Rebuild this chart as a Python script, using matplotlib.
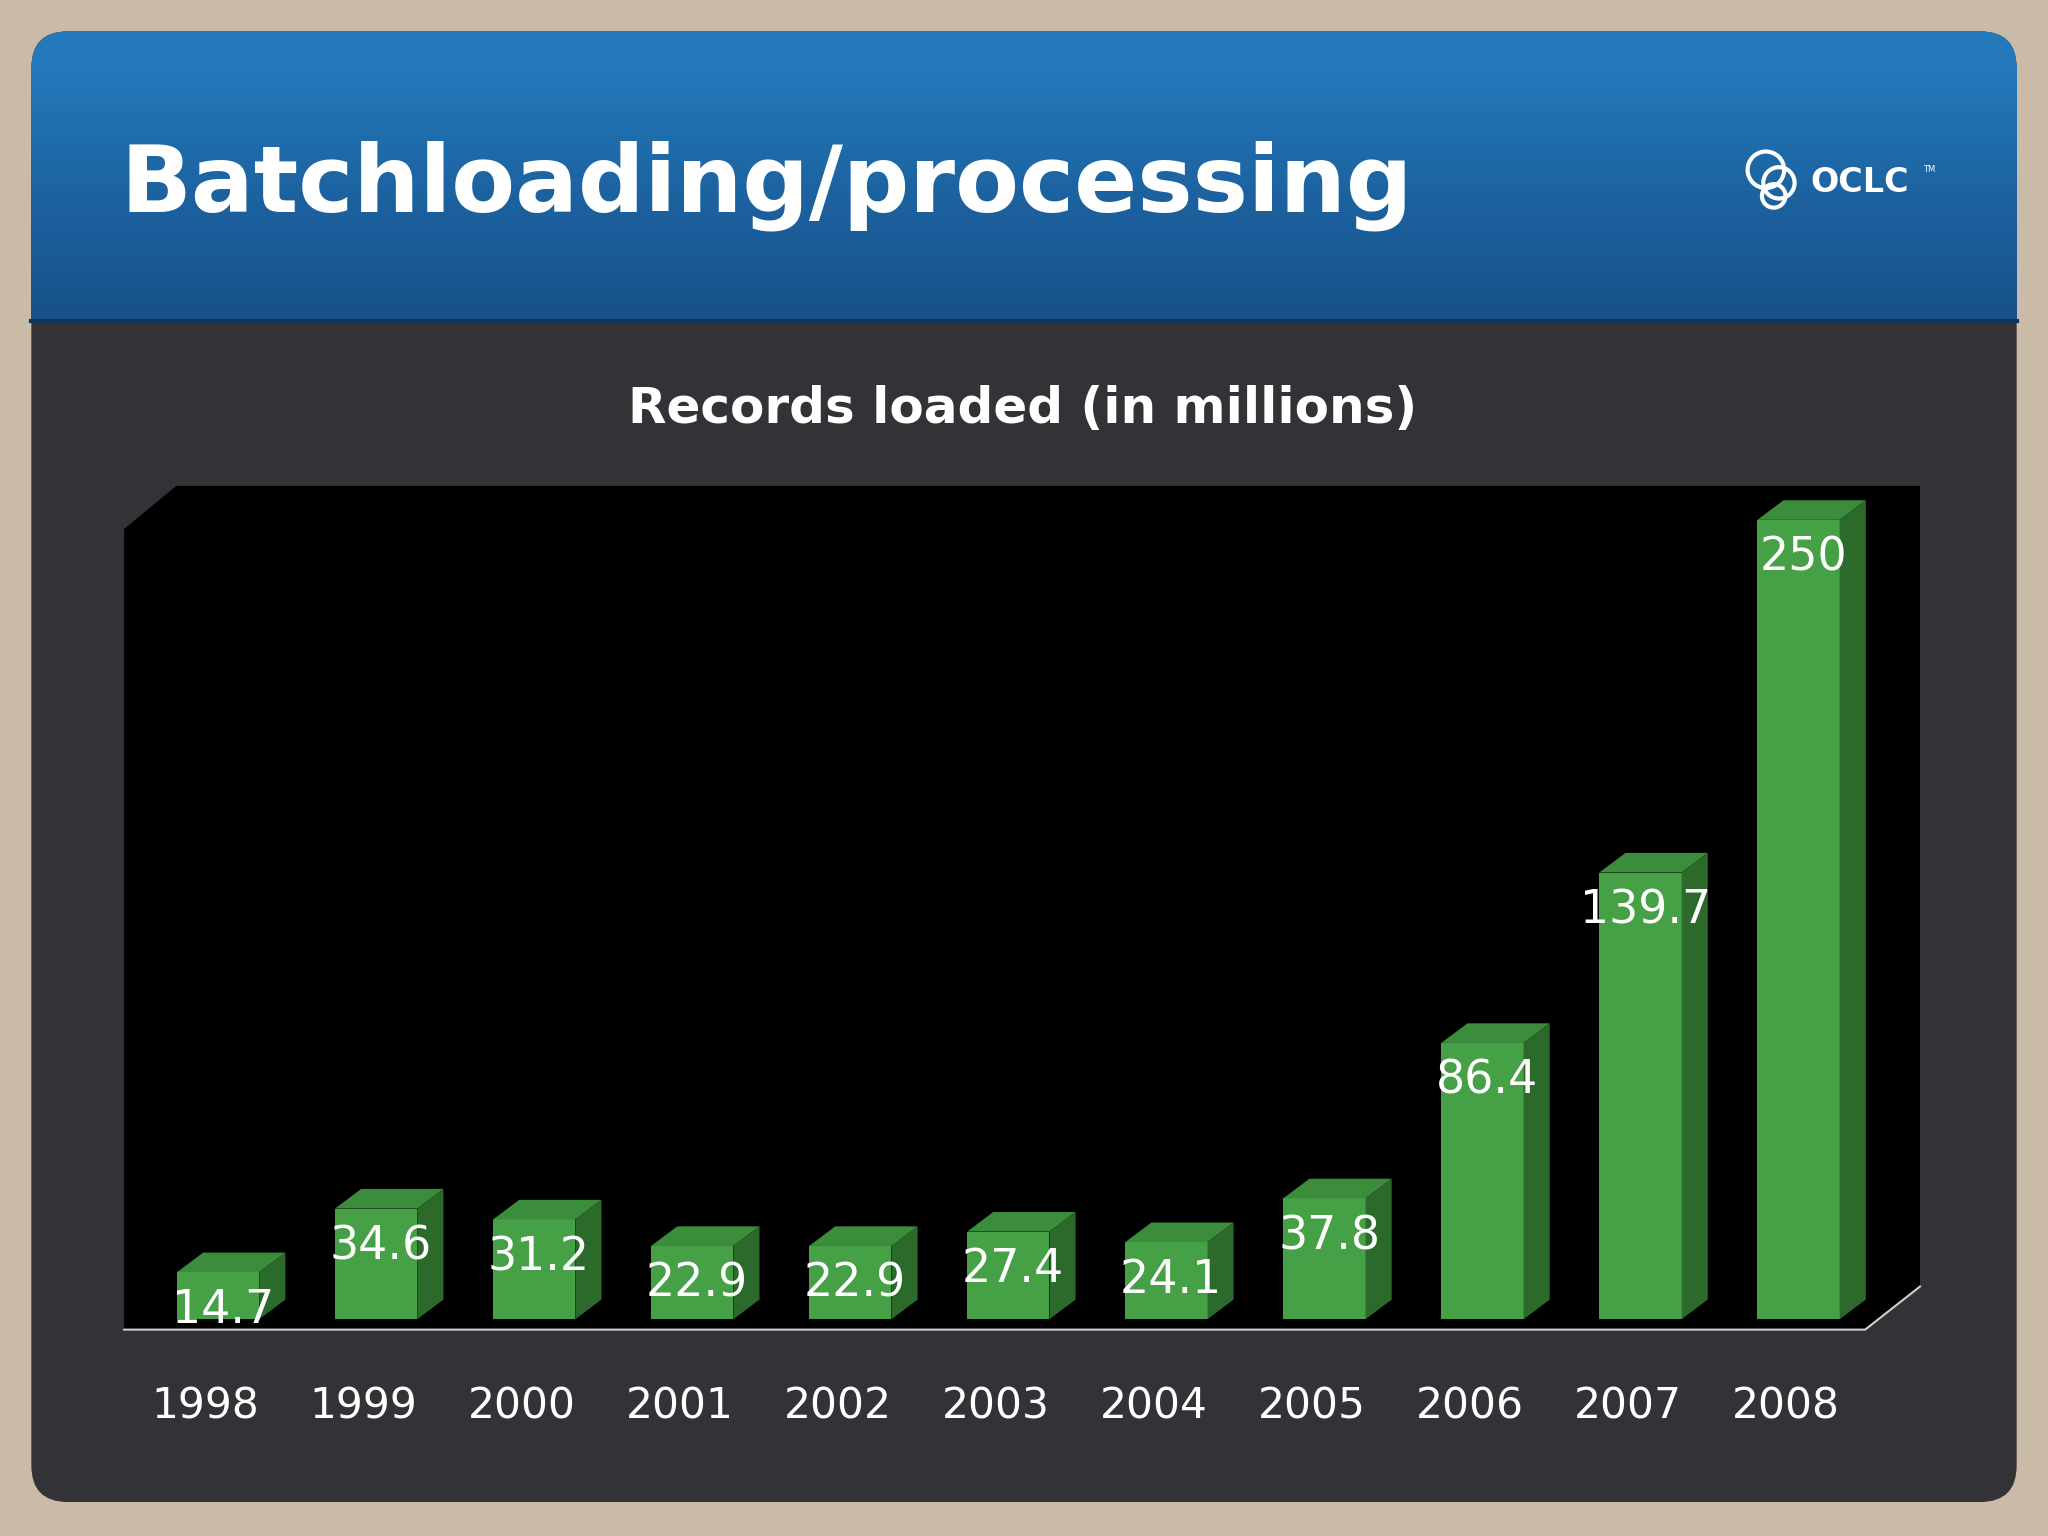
import matplotlib
matplotlib.use("Agg")
import matplotlib.pyplot as plt
from matplotlib.patches import FancyBboxPatch, Rectangle, Polygon, Circle
from matplotlib.colors import LinearSegmentedColormap
import numpy as np

years = ["1998","1999","2000","2001","2002","2003","2004","2005","2006","2007","2008"]
values = [14.7, 34.6, 31.2, 22.9, 22.9, 27.4, 24.1, 37.8, 86.4, 139.7, 250]
labels = ["14.7","34.6","31.2","22.9","22.9","27.4","24.1","37.8","86.4","139.7","250"]

W, H = 1568, 1176
fig = plt.figure(figsize=(20.48, 15.36), dpi=100)
fig.patch.set_facecolor("#c9bba8")
bg = fig.add_axes([0, 0, 1, 1])
bg.set_xlim(0, W); bg.set_ylim(H, 0); bg.axis("off")

bg.add_patch(FancyBboxPatch((24, 24), 1520, 1126, boxstyle="round,pad=0,rounding_size=28",
                            fc="#333236", ec="none"))
cm = LinearSegmentedColormap.from_list("h", ["#2379ba", "#1c62a0", "#175089"])
bg.add_patch(FancyBboxPatch((24, 24), 1520, 80, boxstyle="round,pad=0,rounding_size=28",
                            fc=cm(0.0), ec="none"))
ys = np.linspace(50, 246, 99)
for k in range(len(ys) - 1):
    bg.add_patch(Rectangle((24, ys[k]), 1520, ys[k + 1] - ys[k] + 0.6,
                           fc=cm(k / (len(ys) - 2)), ec="none"))
bg.plot([24, 1544], [246, 246], color="#0f3558", lw=3)

bg.text(92, 142, "Batchloading/processing", color="white", fontsize=67, fontweight="bold",
        va="center", ha="left", family="DejaVu Sans")
for (cx, cy, r) in [(1352, 130, 14), (1362, 140, 12), (1358, 150, 9)]:
    bg.add_patch(Circle((cx, cy), r, fc="none", ec="white", lw=3))
bg.text(1386, 140, "OCLC", color="white", fontsize=24, fontweight="bold", va="center", ha="left")
bg.text(1472, 130, "TM", color="white", fontsize=6, va="center", ha="left")

bg.text(783, 313, "Records loaded (in millions)", color="white", fontsize=36, fontweight="bold",
        ha="center", va="center")

bg.add_patch(Polygon([(95, 405), (135, 372), (1470, 372), (1470, 985), (1428, 1018), (95, 1018)],
                     closed=True, fc="black", ec="none"))
bg.plot([95, 1428, 1470], [1018, 1018, 985], color="#cfcfcf", lw=1.5)

px_per_idx = 121.0
px_per_val = 612.0 / 250
x0px, y0px = 167, 1010
xl = ((95 - x0px) / px_per_idx, (1470 - x0px) / px_per_idx)
yl = ((y0px - 1018) / px_per_val, (y0px - 372) / px_per_val)
ax = fig.add_axes([95 / W, 1 - 1018 / H, (1470 - 95) / W, (1018 - 372) / H])
ax.set_xlim(*xl); ax.set_ylim(*yl); ax.axis("off")
ax.patch.set_alpha(0)

bw = 63 / px_per_idx
dx = 20 / px_per_idx
dy = 15 / px_per_val
x = np.arange(len(values))
ax.bar(x, values, width=bw, color="#46a046", edgecolor="none", zorder=3)
for i, v in enumerate(values):
    l, r = i - bw / 2, i + bw / 2
    ax.add_patch(Polygon([(l, v), (r, v), (r + dx, v + dy), (l + dx, v + dy)], fc="#3b8c3b", ec="none", zorder=3))
    ax.add_patch(Polygon([(r, 0), (r + dx, dy), (r + dx, v + dy), (r, v)], fc="#2c6a2c", ec="none", zorder=3))
    ax.text(i + 0.03, v - 12, labels[i], color="white", fontsize=33, ha="center", va="center", zorder=5)
    ax.text(i - 0.08, (y0px - 1077) / px_per_val, years[i], color="white", fontsize=30.5,
            ha="center", va="center", clip_on=False)

fig.savefig("out.png", dpi=100, facecolor=fig.get_facecolor())
